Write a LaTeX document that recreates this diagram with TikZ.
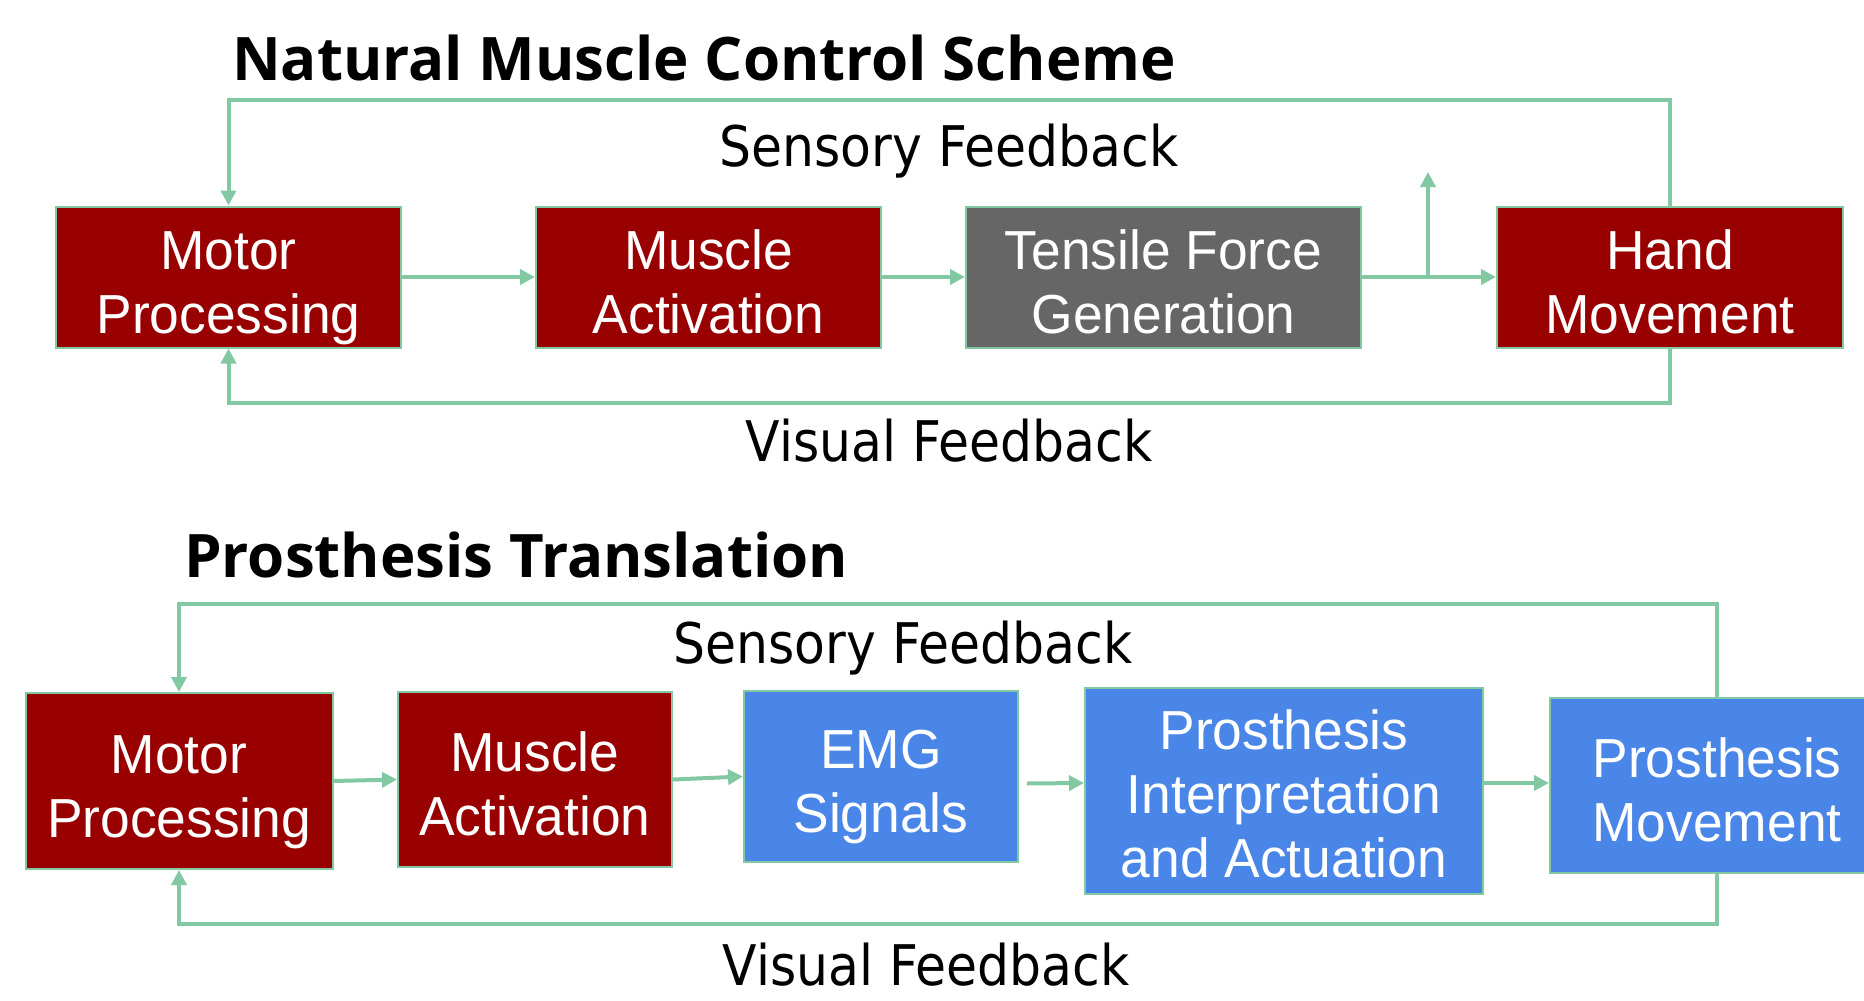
\documentclass[tikz,border=0pt]{standalone}
\usepackage{fontspec}
\setmainfont{Liberation Sans}[FakeStretch=0.97]
\newfontfamily\fbfont{DejaVu Sans}[FakeStretch=0.9]
\newfontfamily\headfont{Open Sans}
\usetikzlibrary{arrows.meta,positioning}
\definecolor{fbgreen}{RGB}{130,200,162}
\definecolor{musclered}{RGB}{153,0,0}
\definecolor{forcegray}{RGB}{102,102,102}
\definecolor{prosblue}{RGB}{74,134,232}

\begin{document}
\begin{tikzpicture}[x=1pt,y=-1pt,>={Triangle[length=15pt,width=15pt]},
    blk/.style={draw=fbgreen,line width=2pt,text=white,align=center,inner sep=0pt,
      font=\fontsize{55}{64}\selectfont,text height=124pt,text depth=12pt},
    flow/.style={draw=fbgreen,line width=4pt},
    fblabel/.style={inner sep=0pt,anchor=base,font=\fbfont\fontsize{56}{66}\selectfont},
    head/.style={inner sep=0pt,anchor=base west,font=\headfont\bfseries\fontsize{60}{70}\selectfont}]
    \clip (0,0) rectangle (1864,1001);

    % natural scheme
    \node[head] (title1) at (232,80) {Natural Muscle Control Scheme};
    \node[blk,fill=musclered,minimum width=345,minimum height=141] (mp1) at (228.5,277) {Motor\\Processing};
    \node[blk,fill=musclered,minimum width=345,minimum height=141] (ma1) at (708.5,277) {Muscle\\Activation};
    \node[blk,fill=forcegray,minimum width=395,minimum height=141] (tf) at (1163.5,277) {Tensile Force\\Generation};
    \node[blk,fill=musclered,minimum width=346,minimum height=141] (hm) at (1670,277) {Hand\\Movement};

    \foreach \a/\b in {mp1/ma1,ma1/tf,tf/hm}
        \draw[flow,->] (\a.east) -- (\b.west);
    \coordinate (tap) at (1428,277);
    \coordinate (tapend) at (1428,172);
    \draw[flow,->] (tap) -- (tapend);

    \draw[flow,->] (hm.north) -- ++(0,-106) -| (mp1.north);
    \draw[flow,->] (hm.south) -- ++(0,54) -| (mp1.south);
    \node[fblabel] (sense1) at (949,166) {Sensory Feedback};
    \node[fblabel] (visual1) at (949,461) {Visual Feedback};

    % prosthesis
    \node[head] (title2) at (184,577) {Prosthesis Translation};
    \node[blk,fill=musclered,minimum width=307,minimum height=176] (mp2) at (179,781) {Motor\\Processing};
    \node[blk,fill=musclered,minimum width=274,minimum height=175] (ma2) at (535,779.5) {Muscle\\Activation};
    \node[blk,fill=prosblue,minimum width=274,minimum height=171] (emg) at (881,776.5) {EMG\\Signals};
    \node[blk,fill=prosblue,minimum width=398,minimum height=206,text height=184pt] (pia) at (1284,791) {Prosthesis\\Interpretation\\and Actuation};
    \node[blk,fill=prosblue,minimum width=334,minimum height=175] (pm) at (1717,785.5) {Prosthesis\\Movement};

    \foreach \a/\b in {mp2/ma2,ma2/emg}
        \draw[flow,->] (\a.east) -- (\b.west);
    \draw[flow,->] ([shift={(8,7)}]emg.east) -- ([yshift=8pt]pia.west);
    \draw[flow,->] ([yshift=8pt]pia.east) -- ([yshift=8pt]pia.east -| pm.west);

    \draw[flow,->] (pm.north) -- ++(0,-93) -| (mp2.north);
    \draw[flow,->] (pm.south) -- ++(0,50) -| (mp2.south);
    \node[fblabel] (sense2) at (903,663) {Sensory Feedback};
    \node[fblabel] (visual2) at (926,985) {Visual Feedback};
\end{tikzpicture}
\end{document}
